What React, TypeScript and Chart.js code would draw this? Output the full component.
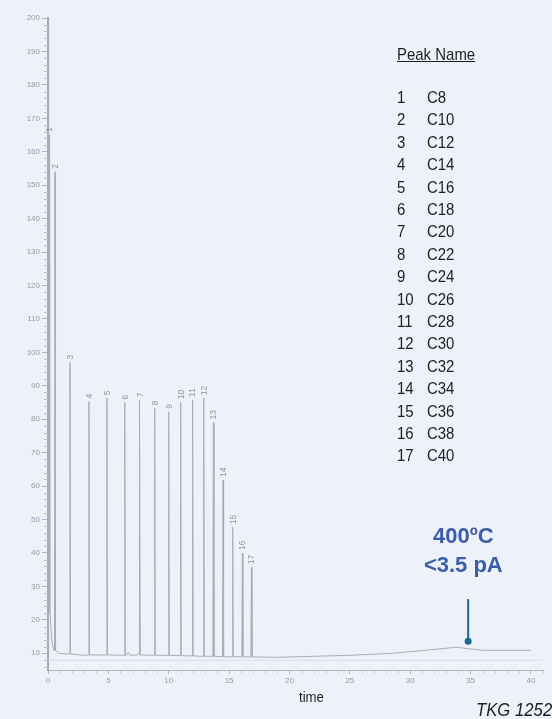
import React, { useEffect, useRef } from 'react';
import { Chart, registerables } from 'chart.js';

Chart.register(...registerables);

const peakNumbers = [1, 2, 3, 4, 5, 6, 7, 8, 9, 10, 11, 12, 13, 14, 15, 16, 17];
const peakNames = ['C8', 'C10', 'C12', 'C14', 'C16', 'C18', 'C20', 'C22', 'C24', 'C26', 'C28', 'C30', 'C32', 'C34', 'C36', 'C38', 'C40'];
const peakTimes = [0.13, 0.58, 1.82, 3.39, 4.88, 6.36, 7.6, 8.84, 10.0, 10.99, 11.98, 12.9, 13.7, 14.5, 15.3, 16.1, 16.85];
const peakHeights = [165, 154, 97, 85.3, 86.3, 85, 85.7, 83.3, 82.2, 85.1, 85.7, 86.3, 79, 61.8, 47.7, 40, 35.7];
const peakFoot = [22, 10.8, 9.8, 9.5, 9.5, 9.4, 9.5, 9.4, 9.4, 9.3, 9.2, 9.1, 9.1, 9.0, 9.0, 8.9, 8.9];

const baselineTimes = [0, 0.03, 0.07, 0.3, 0.45, 0.9, 1.5, 3, 5, 6.5, 6.65, 6.8, 7.4, 7.55, 7.7, 10, 15, 19, 25, 28.5, 31, 33.8, 36, 40];
const baselineValues = [10, 260, 35, 14, 11.2, 10, 9.8, 9.4, 9.5, 9.4, 10.3, 9.4, 9.5, 10.0, 9.5, 9.3, 8.9, 8.8, 9.4, 10, 10.8, 11.8, 10.9, 10.9];

const blankTimes = [0, 41];
const blankValues = [7.9, 7.9];

const xTicks = [0, 5, 10, 15, 20, 25, 30, 35, 40];
const yTicks = [10, 20, 30, 40, 50, 60, 70, 80, 90, 100, 110, 120, 130, 140, 150, 160, 170, 180, 190, 200];

const markerTime = 34.8;
const markerValue = 13.6;
const markerLineTop = 26.2;
const annotationTime = 34.4;
const annotationLines = ['400ºC', '<3.5 pA'];
const annotationValues = [44.7, 36];

const PEAK_HALF_WIDTH = 0.045;

const peakLabelPlugin = {
  id: 'peakLabels',
  afterDatasetsDraw(chart: any) {
    const { ctx, scales } = chart;
    const xs = scales.x;
    const ys = scales.y;
    ctx.save();
    ctx.font = '8.5px "Liberation Sans", Arial, sans-serif';
    ctx.fillStyle = '#90959c';
    ctx.textAlign = 'left';
    ctx.textBaseline = 'middle';
    peakTimes.forEach((t, i) => {
      const px = xs.getPixelForValue(t);
      const py = ys.getPixelForValue(peakHeights[i]);
      ctx.save();
      ctx.translate(px + 0.5, py - 3);
      ctx.rotate(-Math.PI / 2);
      ctx.fillText(String(peakNumbers[i]), 0, 0);
      ctx.restore();
    });
    ctx.restore();
  },
};

const minorTickPlugin = {
  id: 'minorTicks',
  afterDraw(chart: any) {
    const { ctx, scales, chartArea } = chart;
    const xs = scales.x;
    const ys = scales.y;
    ctx.save();
    ctx.strokeStyle = '#bcc2ca';
    ctx.lineWidth = 1;
    ctx.beginPath();
    for (let v = 6; v < 200; v += 2) {
      if (v % 10 === 0) continue;
      const py = Math.round(ys.getPixelForValue(v)) + 0.5;
      ctx.moveTo(chartArea.left - 4, py);
      ctx.lineTo(chartArea.left, py);
    }
    for (let t = 1; t <= 41; t += 1) {
      if (t % 5 === 0) continue;
      const px = Math.round(xs.getPixelForValue(t)) + 0.5;
      ctx.moveTo(px, chartArea.bottom);
      ctx.lineTo(px, chartArea.bottom + 3);
    }
    ctx.stroke();
    ctx.restore();
  },
};

const annotationPlugin = {
  id: 'tempAnnotation',
  afterDraw(chart: any) {
    const { ctx, scales } = chart;
    const xs = scales.x;
    const ys = scales.y;
    const mx = xs.getPixelForValue(markerTime);
    const my = ys.getPixelForValue(markerValue);
    const ly = ys.getPixelForValue(markerLineTop);
    ctx.save();
    ctx.strokeStyle = '#1b6a8c';
    ctx.fillStyle = '#1b6a8c';
    ctx.lineWidth = 2;
    ctx.beginPath();
    ctx.moveTo(mx, ly);
    ctx.lineTo(mx, my);
    ctx.stroke();
    ctx.beginPath();
    ctx.arc(mx, my, 3.5, 0, Math.PI * 2);
    ctx.fill();
    ctx.fillStyle = '#3b5ca8';
    ctx.textAlign = 'center';
    ctx.textBaseline = 'middle';
    ctx.font = 'bold 22px "Liberation Sans", Arial, sans-serif';
    const ax = xs.getPixelForValue(annotationTime);
    annotationLines.forEach((txt, i) => {
      ctx.fillText(txt, ax, ys.getPixelForValue(annotationValues[i]));
    });
    ctx.restore();
  },
};

function buildTrace() {
  const pts: { x: number; y: number }[] = [];
  baselineTimes.forEach((t, i) => pts.push({ x: t, y: baselineValues[i] }));
  peakTimes.forEach((t, i) => {
    pts.push({ x: t - PEAK_HALF_WIDTH, y: peakFoot[i] });
    pts.push({ x: t, y: peakHeights[i] });
    pts.push({ x: t + PEAK_HALF_WIDTH, y: peakFoot[i] });
  });
  pts.sort((a, b) => a.x - b.x);
  return pts;
}

export default function App() {
  const canvasRef = useRef<HTMLCanvasElement | null>(null);

  useEffect(() => {
    if (!canvasRef.current) return;
    const tickFont = { family: '"Liberation Sans", Arial, sans-serif', size: 8 };
    const chart = new Chart(canvasRef.current, {
      type: 'line',
      data: {
        datasets: [
          {
            label: 'blank',
            data: blankTimes.map((t, i) => ({ x: t, y: blankValues[i] })),
            borderColor: '#d8dee6',
            borderWidth: 1,
            pointRadius: 0,
            tension: 0,
          },
          {
            label: 'signal',
            data: buildTrace(),
            borderColor: '#a8adb5',
            borderWidth: 1,
            pointRadius: 0,
            tension: 0,
          },
        ],
      },
      options: {
        responsive: false,
        animation: false,
        devicePixelRatio: 1,
        layout: { padding: { top: 18, right: 9, left: 0, bottom: 0 } },
        plugins: {
          legend: { display: false },
          tooltip: { enabled: false },
          title: { display: false },
        },
        scales: {
          x: {
            type: 'linear',
            min: 0,
            max: 41,
            afterFit: (s: any) => {
              s.height = 49;
            },
            ticks: {
              stepSize: 5,
              includeBounds: false,
              color: '#959aa1',
              font: tickFont,
              padding: 2,
              maxRotation: 0,
              callback: (v: any) => (xTicks.includes(Number(v)) ? String(v) : ''),
            },
            grid: { display: true, drawOnChartArea: false, drawTicks: true, tickLength: 4, color: '#b0b6be' },
            border: { display: true, color: '#b0b6be', width: 1 },
          },
          y: {
            type: 'linear',
            min: 5,
            max: 200,
            afterFit: (s: any) => {
              s.width = 48;
            },
            ticks: {
              stepSize: 10,
              includeBounds: false,
              color: '#959aa1',
              font: tickFont,
              padding: 2,
              callback: (v: any) => (yTicks.includes(Number(v)) ? String(v) : ''),
            },
            grid: { display: true, drawOnChartArea: false, drawTicks: true, tickLength: 6, color: '#b0b6be' },
            border: { display: true, color: '#a6acb4', width: 2 },
          },
        },
      },
      plugins: [peakLabelPlugin, minorTickPlugin, annotationPlugin],
    });
    return () => chart.destroy();
  }, []);

  const textBase: React.CSSProperties = {
    position: 'absolute',
    fontFamily: '"Liberation Sans", Arial, sans-serif',
    color: '#1e1e1e',
    whiteSpace: 'nowrap',
    transformOrigin: 'left center',
    transform: 'scaleX(0.88)',
    lineHeight: 1,
  };

  return (
    <div
      style={{
        position: 'absolute',
        left: 0,
        top: 0,
        width: 552,
        height: 719,
        overflow: 'hidden',
        background: '#edf2fa',
      }}
    >
      <canvas ref={canvasRef} width={552} height={719} style={{ position: 'absolute', left: 0, top: 0 }} />
      <div style={{ ...textBase, left: 397, top: 55 - 9, fontSize: 17, textDecoration: 'underline' }}>Peak Name</div>
      {peakNumbers.map((n, i) => (
        <React.Fragment key={n}>
          <div style={{ ...textBase, left: 397, top: 98 + 22.4 * i - 9, fontSize: 17 }}>{n}</div>
          <div style={{ ...textBase, left: 427, top: 98 + 22.4 * i - 9, fontSize: 17 }}>{peakNames[i]}</div>
        </React.Fragment>
      ))}
      <div style={{ ...textBase, left: 299, top: 697 - 8, fontSize: 15 }}>time</div>
      <div style={{ ...textBase, left: 476, top: 710 - 10, fontSize: 19, fontStyle: 'italic' }}>TKG 1252</div>
    </div>
  );
}
